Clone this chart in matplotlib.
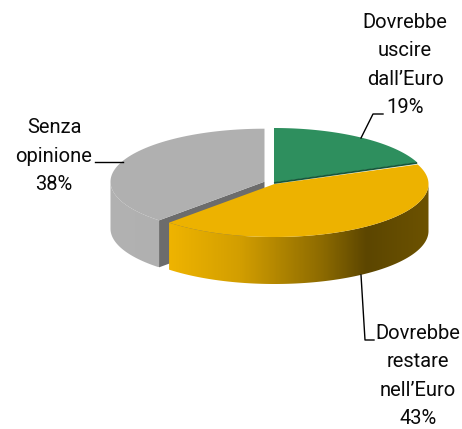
import numpy as np
import matplotlib
matplotlib.use("Agg")
import matplotlib.pyplot as plt
from matplotlib.colors import LinearSegmentedColormap
from matplotlib.patches import Polygon

categories = ["Dovrebbe\nuscire\ndall’Euro", "Dovrebbe\nrestare\nnell’Euro", "Senza\nopinione"]
shares = [19, 43, 38]
top_colors = ["#2E8F5E", "#EDB200", "#B0B0B0"]

plt.rcParams['font.family'] = ['Roboto', 'Liberation Sans', 'DejaVu Sans']

fig = plt.figure(figsize=(4.62, 4.29), dpi=100, facecolor="white")
ax = fig.add_axes([0, 0, 1, 1])
ax.set_xlim(0, 462)
ax.set_ylim(429, 0)
ax.axis("off")

RX, DEPTH = 154.0, 47.0
bounds = 90 - np.cumsum([0] + shares) * 3.6  # clockwise from 12 o'clock
CENTERS = [(274.0, 182.5, 54.5), (274.5, 184.0, 53.0), (264.5, 181.7, 53.0)]


def arc(i, t0, t1):
    cx, cy, ry = CENTERS[i]
    t = np.radians(np.linspace(t0, t1, 160))
    return np.column_stack([cx + RX * np.cos(t), cy - ry * np.sin(t)])


def side_poly(i, t0, t1):
    a = arc(i, t0, t1)
    return np.vstack([a, (a + [0, DEPTH])[::-1]])


def gradient_fill(verts, stops, zorder):
    x0, x1 = stops[0][0], stops[-1][0]
    cmap = LinearSegmentedColormap.from_list(
        "g", [((x - x0) / (x1 - x0), c) for x, c in stops])
    im = ax.imshow(np.linspace(0, 1, 300)[None, :], cmap=cmap, aspect="auto",
                   extent=(x0, x1, verts[:, 1].max(), verts[:, 1].min()),
                   zorder=zorder, interpolation="bilinear")
    clip = Polygon(verts, closed=True, transform=ax.transData, fc="none", ec="none")
    ax.add_patch(clip)
    im.set_clip_path(clip)
    ax.set_xlim(0, 462)
    ax.set_ylim(429, 0)


# grey slice
g0, g1 = bounds[2], bounds[3]
gray_side = side_poly(2, -180, g0)
gradient_fill(gray_side, [(110, "#B2B2B2"), (160, "#B0B0B0")], 1)
cx, cy, ry = CENTERS[2]
corner = arc(2, g0, g0)[0]
ax.add_patch(Polygon([(cx, cy), corner, corner + [0, DEPTH], (cx, cy + DEPTH)],
                     closed=True, fc="#6C6C6C", ec="none", zorder=2))
ax.add_patch(Polygon(np.vstack([[(cx, cy)], arc(2, g0, g1)]), closed=True,
                     fc=top_colors[2], ec="none", zorder=3))

# yellow slice
y0, y1 = bounds[1], bounds[2]
yellow_side = side_poly(1, y1, 0)
gradient_fill(yellow_side,
              [(168, "#EFB400"), (240, "#D29E00"), (323, "#8C6A00"),
               (367, "#5C4600"), (429, "#6C5200")], 4)
cx, cy, ry = CENTERS[1]
ax.add_patch(Polygon(np.vstack([[(cx, cy)], arc(1, y0, y1)]), closed=True,
                     fc=top_colors[1], ec="none", zorder=5))

# green slice
cx, cy, ry = CENTERS[0]
a = arc(0, bounds[0], bounds[1])
ax.add_patch(Polygon(np.vstack([[(cx, cy)], a]), closed=True,
                     fc=top_colors[0], ec="none", zorder=6))
ax.plot([cx, a[-1, 0]], [cy + 0.5, a[-1, 1] + 0.5], color="#17573A", lw=1.3,
        solid_capstyle="butt", zorder=7)

# leader lines
ax.plot([361, 373, 383], [138, 114, 114], color="black", lw=1.0, zorder=8)
ax.plot([361, 365, 374], [275, 340, 340], color="black", lw=1.0, zorder=8)
ax.plot([123, 95], [162.3, 162.3], color="black", lw=1.0, zorder=8)

# labels
label_xy = [(405, 65), (418, 376), (54, 156)]
for name, val, (x, y) in zip(categories, shares, label_xy):
    ax.text(x, y, f"{name}\n{val}%", ha="center", va="center", ma="center",
            fontsize=14.5, linespacing=1.62, color="#0A0A0A", zorder=9)

fig.savefig("out.png", dpi=100)
